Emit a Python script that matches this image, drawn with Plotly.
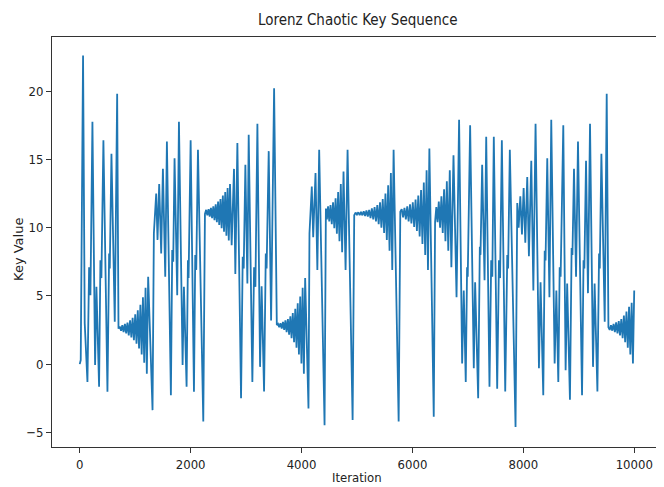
import plotly.graph_objects as go

# ---- data (turning points of the sequence) ----
iter_part1 = [0, 18, 60, 78, 90, 139, 169, 193, 229, 277, 301, 349, 373, 391, 427, 500, 530, 542, 572, 632, 675,
              699, 722, 745, 768, 791, 815, 838, 861, 884, 908, 931, 954, 977, 1001, 1024, 1047, 1070, 1094, 1117,
              1140, 1163, 1187, 1210, 1234, 1313, 1337, 1379, 1403, 1433, 1469, 1500, 1542, 1572, 1644, 1668, 1686,
              1710, 1758, 1789, 1855, 1879, 1927, 1951, 1963, 2000, 2060, 2083, 2101, 2132, 2228]
key_part1 = [0.0, 0.3, 22.6, 5.6, 3.0, -1.3, 7.1, 5.05, 17.75, -0.07, 5.66, -1.66, 7.6, 6.3, 16.4, -2.03, 8.1, 7.0,
             15.4, 3.1, 19.8,
             2.6, 2.75, 2.45, 2.85, 2.35, 2.95, 2.25, 3.05, 2.1, 3.2, 1.95, 3.4, 1.75, 3.65, 1.5, 3.95, 1.15, 4.35, 0.7,
             4.9, 0.1, 5.6, -0.7, 6.4, -3.37, 9.57, 12.5, 9.1, 13.2, 8.1, 14.3, 6.4, 16.3, -2.27, 8.35, 7.5,
             15.07, 5.05, 17.75, -0.07, 5.66, -1.66, 7.6, 6.3, 16.4, -2.03, 8.0, 6.9, 15.7, -4.2]

iter_part2 = [2258, 2280, 2301, 2323, 2344, 2366, 2387, 2409, 2430, 2452, 2473, 2495, 2516, 2538, 2559, 2581, 2602,
              2624, 2645, 2667, 2688, 2710, 2740, 2782, 2806, 2843, 2909, 2939, 2957, 2987, 3023, 3047, 3113, 3144,
              3168, 3204, 3252, 3280, 3324, 3355, 3370, 3408, 3451, 3505,
              3554, 3576, 3598, 3620, 3643, 3665, 3687, 3709, 3731, 3754, 3776, 3798, 3820, 3842, 3865, 3887, 3909,
              3931, 3953, 3976, 3998, 4020, 4042, 4065, 4125, 4143, 4185, 4210, 4252, 4285, 4318, 4415]
key_part2 = [11.0, 11.3, 10.9, 11.35, 10.8, 11.45, 10.7, 11.55, 10.55, 11.7, 10.4, 11.9, 10.2, 12.1, 9.95, 12.35,
             9.7, 12.6, 9.4, 12.9, 9.05, 13.2, 8.7, 14.3, 6.6, 16.2, -2.5, 7.86, 7.0, 14.6, 5.9, 16.8, -1.3, 7.1,
             5.66, 17.6, -0.2, 5.7, -2.0, 8.1, 7.0, 15.6, 3.2, 20.2,
             2.86, 2.95, 2.7, 3.0, 2.6, 3.1, 2.5, 3.2, 2.35, 3.3, 2.15, 3.5, 1.9, 3.75, 1.6, 4.05, 1.2,
             4.45, 0.7, 4.95, 0.05, 5.6, -0.7, 6.3, -3.25, 9.57, 13.0, 9.3, 14.0, 6.9, 15.7, -4.47]

iter_part3 = [4439, 4457, 4478, 4500, 4522, 4545, 4568, 4591, 4614, 4637, 4660, 4684, 4708, 4732, 4757, 4794, 4830,
              4921,
              4950, 4974, 4999, 5023, 5048, 5072, 5097, 5121, 5146, 5170, 5195, 5219, 5244, 5268, 5293, 5317, 5342,
              5366, 5391, 5415, 5440, 5464, 5489, 5513, 5538, 5562, 5587, 5611, 5636, 5660, 5751,
              5781, 5806, 5831, 5856, 5881, 5906, 5931, 5956, 5981, 6006, 6031, 6056, 6080, 6105, 6130, 6155, 6180,
              6205, 6230, 6255, 6280, 6305, 6384,
              6408, 6430, 6452, 6475, 6498, 6522, 6546, 6570, 6595, 6620, 6646, 6673, 6702, 6740, 6795, 6841]
key_part3 = [11.4, 10.6, 11.55, 10.45, 11.65, 10.25, 11.85, 9.95, 12.15, 9.55, 12.6, 9.0, 13.2, 8.2, 14.1, 6.9, 15.7,
             -4.1,
             10.9, 11.1, 10.95, 11.12, 10.92, 11.15, 10.9, 11.2, 10.85, 11.25, 10.8, 11.3, 10.7, 11.4, 10.6, 11.5,
             10.45, 11.65, 10.25, 11.85, 10.0, 12.1, 9.6, 12.5, 9.1, 13.1, 8.3, 14.0, 6.9, 15.7, -4.2,
             11.16, 11.35, 10.75, 11.45, 10.6, 11.55, 10.45, 11.7, 10.3, 11.85, 10.05, 12.05, 9.75, 12.35, 9.35,
             12.75, 8.8, 13.3, 8.0, 14.2, 6.9, 15.8, -3.86,
             10.4, 11.5, 10.4, 11.9, 10.0, 12.3, 9.6, 12.8, 9.0, 13.4, 8.3, 14.2, 7.1, 15.3, 4.9, 17.9]

iter_part4 = [6896, 6925, 6961, 6985, 6997, 7040, 7106, 7130, 7185, 7215, 7227, 7257, 7300, 7330, 7389, 7420, 7440,
              7467, 7528, 7560, 7580, 7612, 7673, 7710, 7725, 7756, 7859, 7890, 7915, 7945, 7975, 8005, 8035, 8070,
              8100, 8143, 8180, 8220, 8281, 8310, 8359, 8385, 8400, 8431, 8470, 8503, 8564, 8595, 8630, 8655, 8672,
              8720, 8762, 8790, 8840, 8870, 8885, 8913, 8950, 8985, 9058, 9085, 9100, 9130, 9165, 9202, 9256, 9285,
              9335, 9365, 9378, 9407, 9467, 9503,
              9534, 9557, 9580, 9603, 9627, 9650, 9673, 9697, 9720, 9743, 9766, 9790, 9813, 9836, 9859, 9883, 9906,
              9929, 9953, 9976, 9999]
key_part4 = [0.05, 5.4, -1.3, 7.1, 6.4, 17.5, -0.3, 6.0, -2.5, 8.6, 8.0, 14.6, 6.15, 16.65, -1.66, 7.6, 6.4,
             16.65, -1.8, 7.6, 6.3, 16.4, -2.0, 8.0, 7.0, 15.7, -4.6, 11.8, 10.0, 12.3, 9.5, 12.9, 8.9, 13.7,
             7.9, 14.9, 5.4, 17.6, -0.3, 6.0, -2.27, 8.3, 7.6, 15.07, 4.9, 17.9, 0.05, 5.4, -1.3, 7.1, 6.4,
             17.5, -0.44, 5.9, -2.6, 8.5, 8.0, 14.3, 6.4, 16.3, -2.27, 7.6, 7.0, 14.9, 5.2, 17.6, -0.2, 5.9,
             -2.0, 8.1, 7.0, 15.4, 3.1, 19.8,
             2.7, 2.5, 2.85, 2.45, 2.95, 2.35, 3.05, 2.25, 3.15, 2.1, 3.3, 1.9, 3.55, 1.6, 3.85, 1.2, 4.2,
             0.7, 4.5, 0.05, 5.4]

x_ticks = [0, 2000, 4000, 6000, 8000, 10000]
x_tick_labels = ["0", "2000", "4000", "6000", "8000", "10000"]
y_ticks = [-5, 0, 5, 10, 15, 20]
y_tick_labels = ["\u22125", "0", "5", "10", "15", "20"]

iterations = iter_part1 + iter_part2 + iter_part3 + iter_part4
key_values = key_part1 + key_part2 + key_part3 + key_part4

# the page body adds an 8px offset, so the figure is 8px smaller than the window
W, H = 656, 479
L, R, T, B = 44, 2, 29, 40

fig = go.Figure()
fig.add_trace(go.Scatter(x=iterations, y=key_values, mode="lines",
                         line=dict(color="#1f77b4", width=1.8), showlegend=False))

narrow = "Liberation Sans Narrow, DejaVu Sans Condensed, Liberation Sans, sans-serif"
tick_font = dict(family=narrow, size=13, color="#222222")

axis_common = dict(ticks="outside", ticklen=5, tickwidth=1, tickcolor="#333333", showline=True,
                   linecolor="#333333", linewidth=1, mirror=True, showgrid=False, zeroline=False,
                   tickfont=tick_font, automargin=False)

fig.update_layout(
    width=W, height=H, autosize=False,
    margin=dict(l=L, r=R, t=T, b=B, pad=0),
    paper_bgcolor="white", plot_bgcolor="white",
    xaxis=dict(range=[-500, 10500], tickvals=x_ticks, ticktext=x_tick_labels, **axis_common),
    yaxis=dict(range=[-6.07, 23.96], tickvals=y_ticks, ticktext=y_tick_labels, **axis_common),
    annotations=[
        dict(text="Lorenz Chaotic Key Sequence", xref="paper", yref="paper", x=0.5, y=1,
             yshift=17, xanchor="center", yanchor="middle", showarrow=False,
             font=dict(family=narrow, size=15, color="#222222")),
        dict(text="Iteration", xref="paper", yref="paper", x=0.5, y=0, yshift=-40,
             xanchor="center", yanchor="bottom", showarrow=False,
             font=dict(family=narrow, size=13, color="#222222")),
        dict(text="Key Value", xref="paper", yref="paper", x=0, y=0.5, xshift=-34, yshift=-8,
             textangle=-90, xanchor="center", yanchor="middle", showarrow=False,
             font=dict(family="DejaVu Sans, sans-serif", size=13, color="#222222")),
    ],
)

fig.write_html("out.html")
